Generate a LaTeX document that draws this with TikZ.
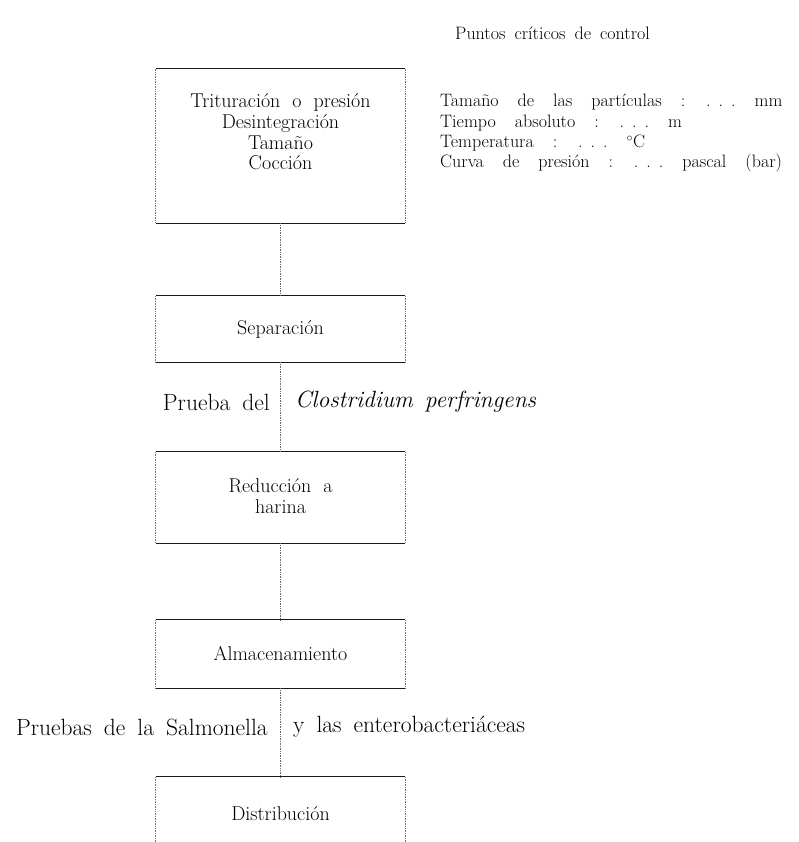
\documentclass[tikz,border=0pt]{standalone}
\usepackage{fontspec}
\newcommand\wsp[1]{\spaceskip#1\relax}
\newcommand\dts{.\hspace{8pt}.\hspace{8pt}.}
\begin{document}
\begin{tikzpicture}[x=1pt,y=-1pt,
  title/.style={inner sep=0pt, font={\fontsize{18}{20}\selectfont\wsp{9pt plus 2pt}}},
  txt/.style={inner sep=0pt, font={\fontsize{18}{20.4}\selectfont\wsp{19pt plus 2pt}}},
  lbl/.style={inner sep=0pt, font={\fontsize{23.5}{25}\selectfont\wsp{12pt plus 2pt}}},
  boxtext/.style={inner sep=0pt, align=center,
    font={\fontsize{20}{20.7}\selectfont\wsp{12pt plus 2pt}}},
  stage/.style={minimum width=249pt, inner sep=0pt},
  hedge/.style={draw=black!90, line width=0.9pt},
  vedge/.style={draw=black!55, line width=0.7pt, densely dotted},
  link/.style={draw=black!60, line width=0.7pt, densely dotted}]
\useasboundingbox (0,0) rectangle (799,842);
\node[stage, minimum height=154pt] (b1) at (280.5,146) {};
\node[stage, minimum height=66pt] (b2) at (280.5,329) {};
\node[stage, minimum height=91pt] (b3) at (280.5,497.5) {};
\node[stage, minimum height=68pt] (b4) at (280.5,654) {};
\node[stage, minimum height=73pt] (b5) at (280.5,813.5) {};
\node[boxtext] (b1t) at (280.5,132) {Trituración o presión\\Desintegración\\Tamaño\\Cocción};
\node[boxtext] (b2t) at (280.5,329) {Separación};
\node[boxtext] (b3t) at (280.5,496) {Reducción a\\harina};
\node[boxtext] (b4t) at (280.5,654) {Almacenamiento};
\node[boxtext] (b5t) at (280.5,813.5) {Distribución};
\foreach \n in {b1,b2,b3,b4,b5} {
  \draw[hedge] (\n.north west) -- (\n.north east);
  \draw[hedge] (\n.south west) -- (\n.south east);
  \draw[vedge] (\n.north west) -- (\n.south west);
  \draw[vedge] (\n.north east) -- (\n.south east);
}
\draw[link] (b1.south) -- (b2.north);
\draw[link] (b2.south) -- (b3.north);
\draw[link] (b3.south) -- (b4.north);
\draw[link] (b4.south) -- (b5.north);
\node[title, anchor=west] (pcc) at (455,33) {Puntos críticos de control};
\node[txt, anchor=north west, align=left] (params) at (440,94) {Tamaño de las partículas : \dts\ mm\\Tiempo absoluto : \dts\ m\\Temperatura : \dts\ $^{\circ}$C\\Curva de presión : \dts\ pascal (bar)};
\node[lbl, anchor=east] (t1a) at (270,402) {Prueba del};
\node[lbl, anchor=west] (t1b) at (295,402) {\itshape Clostridium perfringens};
\node[lbl, anchor=east] (t2a) at (268,727) {Pruebas de la Salmonella};
\node[lbl, anchor=west] (t2b) at (293,727) {y las enterobacteriáceas};
\end{tikzpicture}
\end{document}
